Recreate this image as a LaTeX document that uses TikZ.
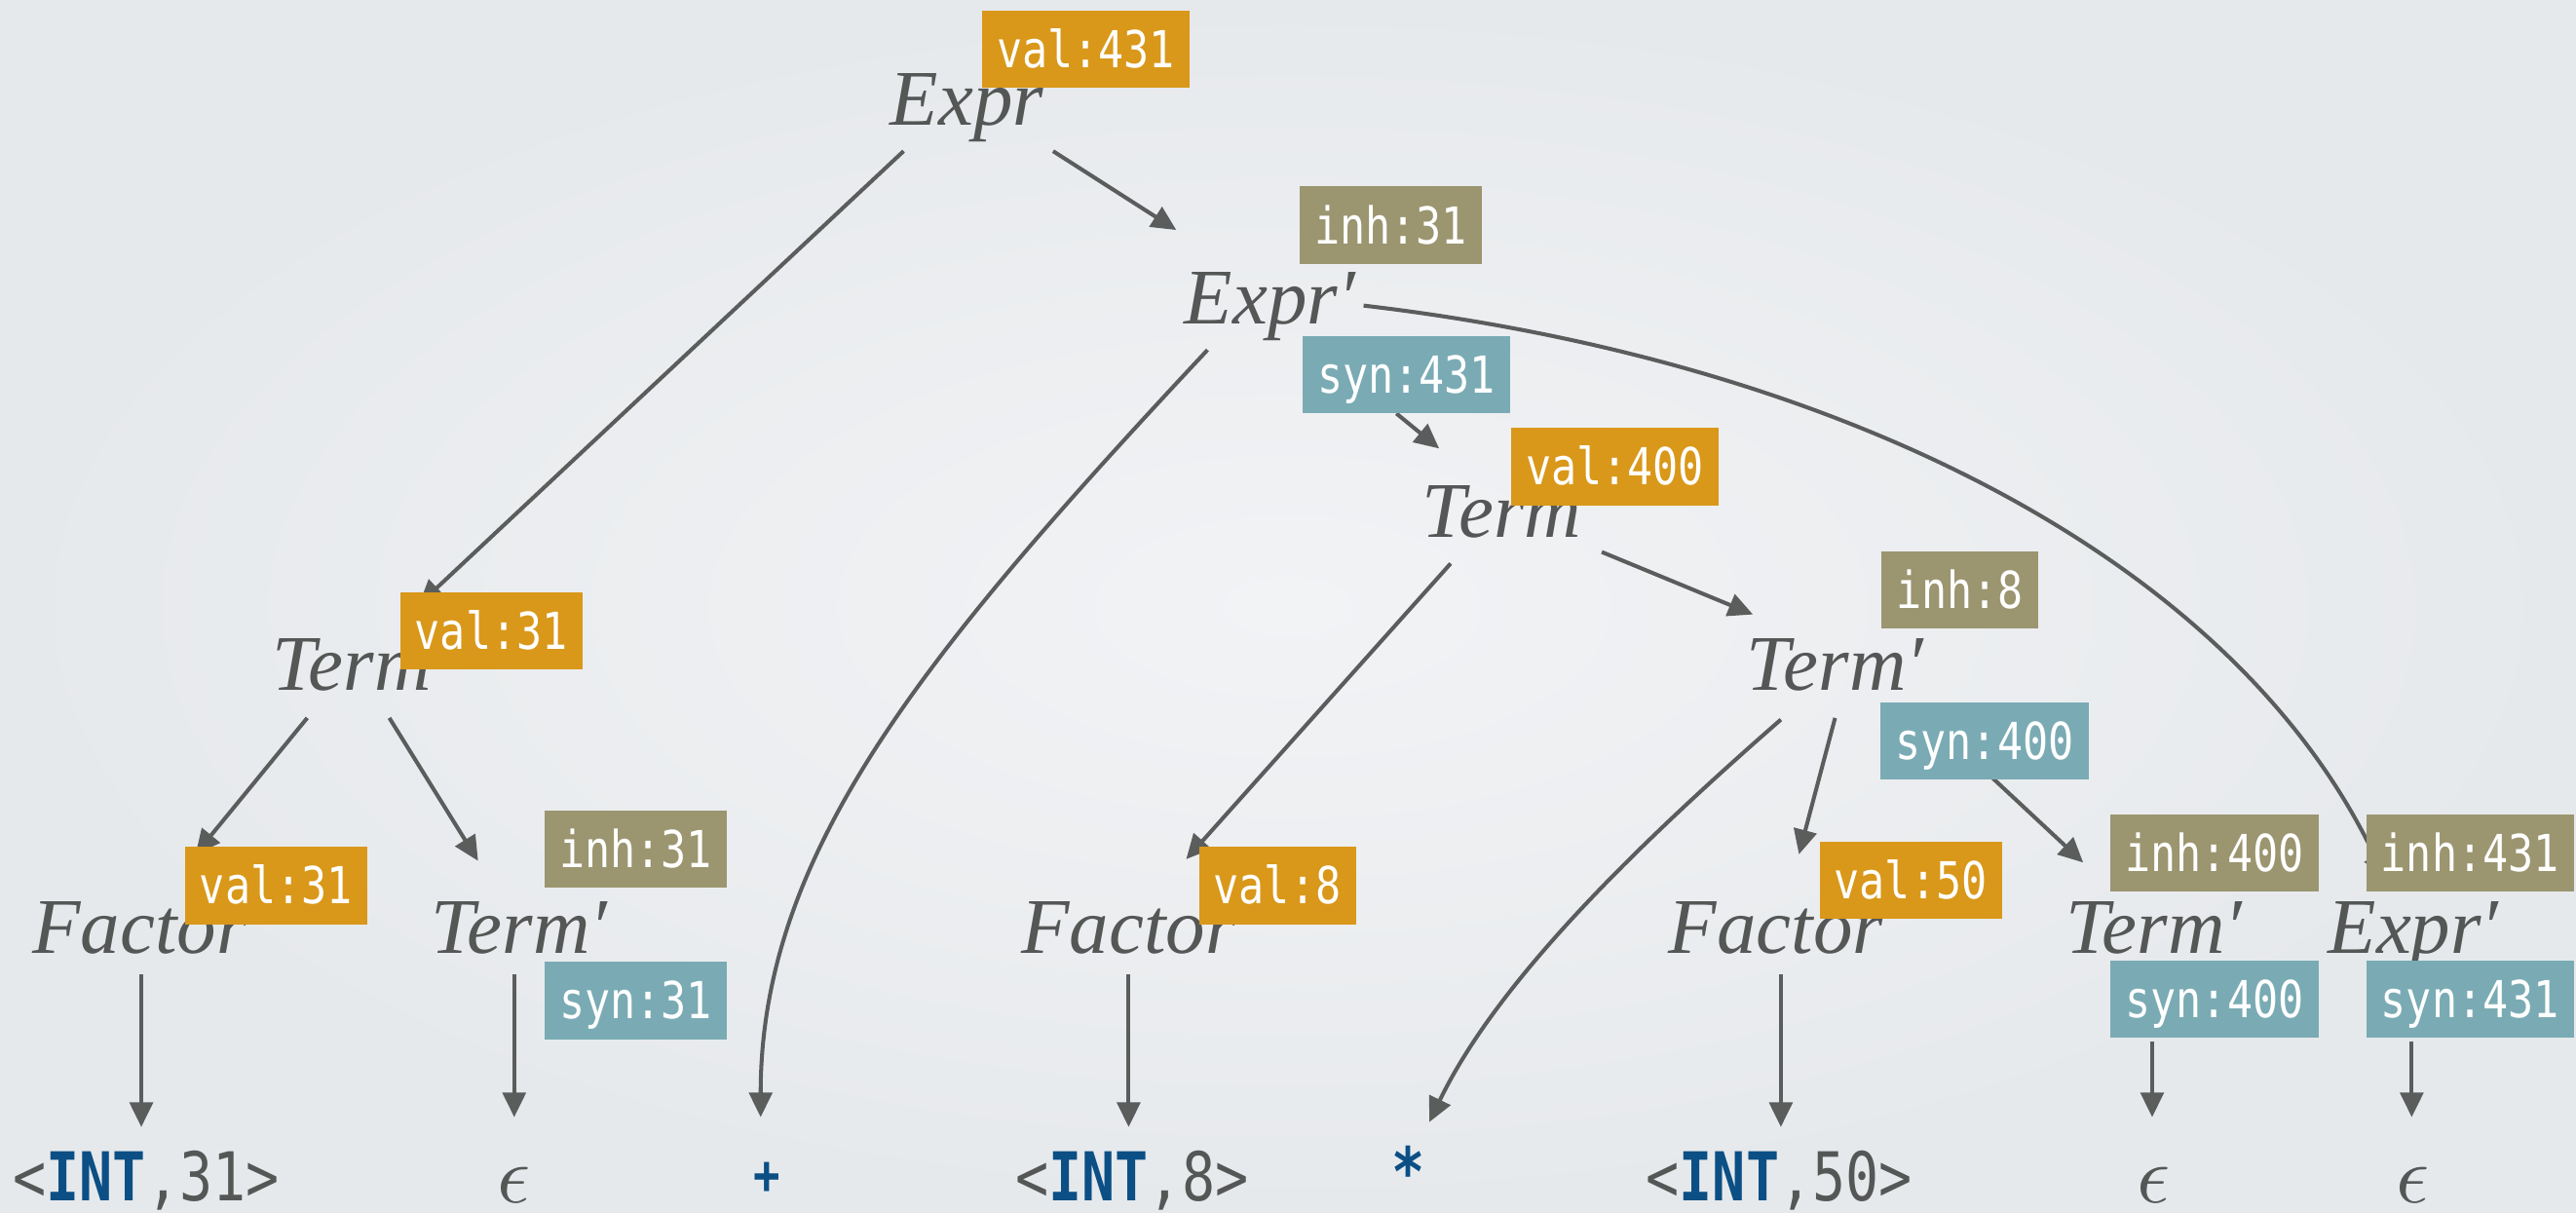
\documentclass[tikz,border=0pt]{standalone}
\usepackage{graphicx}
\usepackage{fontspec}
\setmainfont{Liberation Serif}
\newfontfamily\labfont[FakeStretch=0.83]{DejaVu Sans Mono}
\newfontfamily\tokfont[FakeStretch=0.82]{DejaVu Sans Mono}
\usetikzlibrary{arrows.meta,calc}

\definecolor{bgin}{HTML}{F2F3F5}
\definecolor{bgout}{HTML}{E6E9EC}
\definecolor{ink}{HTML}{555756}
\definecolor{edge}{HTML}{5A5D5C}
\definecolor{valc}{HTML}{D9981A}
\definecolor{inhc}{HTML}{9B9570}
\definecolor{sync}{HTML}{7AABB4}
\definecolor{intblue}{HTML}{0B4F85}

\pgfdeclarelayer{bg}
\pgfdeclarelayer{edges}
\pgfsetlayers{bg,edges,main}

\tikzset{
  nt/.style={anchor=base, inner sep=0pt, text=ink, font=\fontsize{48}{48}\selectfont\itshape},
  attr/.style={anchor=center, text=white, inner xsep=9pt, inner ysep=0pt,
    minimum height=47pt, text height=22.6pt, text depth=0pt,
    font=\labfont\fontsize{31}{31}\selectfont},
  valbox/.style={attr, fill=valc},
  inhbox/.style={attr, fill=inhc},
  synbox/.style={attr, fill=sync},
  tok/.style={anchor=base, inner sep=0pt, text=ink, font=\tokfont\fontsize{41}{41}\selectfont},
  sym/.style={anchor=base, inner sep=0pt, text=intblue, font=\tokfont\bfseries\fontsize{33}{33}\selectfont},
  bigsym/.style={sym, font=\tokfont\bfseries\fontsize{41}{41}\selectfont},
  eps/.style={anchor=base, inner sep=0pt, text=ink},
  arr/.style={draw=edge, line width=2.4pt, -{Triangle[length=15pt,width=14pt]}},
}

\newcommand{\intok}[1]{<\textcolor{intblue}{\bfseries INT},#1>}
\newcommand{\epsleaf}{\scalebox{5}{$\epsilon$}}

\begin{document}
\begin{tikzpicture}[x=1pt, y=-1pt]
\useasboundingbox (0,0) rectangle (1568,738);
\begin{pgfonlayer}{bg}
  \shade[inner color=bgin, outer color=bgout] (0,0) rectangle (1568,738);
\end{pgfonlayer}

% nonterminals
\node[nt] (expr)    at (588.5,76) {Expr};
\node[nt] (exprA)   at (773,197)  {Expr′};
\node[nt] (termM)   at (914,327)  {Term};
\node[nt] (termpR)  at (1117,420) {Term′};
\node[nt] (termL)   at (214,420)  {Term};
\node[nt] (factorL) at (85,580)   {Factor};
\node[nt] (termpL)  at (316,580)  {Term′};
\node[nt] (factorM) at (687,580)  {Factor};
\node[nt] (factorR) at (1081,580) {Factor};
\node[nt] (termpB)  at (1311,580) {Term′};
\node[nt] (exprB)   at (1469,580) {Expr′};

% leaves
\node[tok] (int31) at (89,731)   {\intok{31}};
\node[tok] (int8)  at (689,731)  {\intok{8}};
\node[tok] (int50) at (1083,731) {\intok{50}};
\node[sym] (plus)  at (467,727)  {+};
\node[bigsym] (star) at (857,728) {*};
\node[eps] (eps1)  at (313,732)  {\epsleaf};
\node[eps] (eps4)  at (1311,732) {\epsleaf};
\node[eps] (eps5)  at (1469,732) {\epsleaf};

% attribute tags
\node[valbox] (v431)  at (661,30)    {val:431};
\node[inhbox] (i31a)  at (846.5,137) {inh:31};
\node[synbox] (s431a) at (856,228)   {syn:431};
\node[valbox] (v400)  at (983,284)   {val:400};
\node[inhbox] (i8)    at (1193,359)  {inh:8};
\node[synbox] (s400a) at (1208,451)  {syn:400};
\node[valbox] (v31a)  at (299,384)   {val:31};
\node[valbox] (v31b)  at (168,539)   {val:31};
\node[inhbox] (i31b)  at (387,517)   {inh:31};
\node[synbox] (s31)   at (387,609)   {syn:31};
\node[valbox] (v8)    at (777.5,539) {val:8};
\node[valbox] (v50)   at (1163,536)  {val:50};
\node[inhbox] (i400)  at (1348,519)  {inh:400};
\node[synbox] (s400b) at (1348,608)  {syn:400};
\node[inhbox] (i431)  at (1503.5,519){inh:431};
\node[synbox] (s431b) at (1503.5,608){syn:431};

\begin{pgfonlayer}{edges}
  \draw[arr] ([shift={(-38.5,16)}]expr.base) -- ([shift={(41,-52)}]termL.base);
  \draw[arr] ([shift={(52.5,16)}]expr.base) -- ([shift={(-57,-57)}]exprA.base);
  \draw[arr] ([shift={(-38,16)}]exprA.base) .. controls +(-175,187) and +(0,-160) .. ([shift={(-4,-47)}]plus.base);
  \draw[arr] ([shift={(57,-11)}]exprA.base) .. controls +(290,34) and +(-92,-195) .. ([shift={(-17,-45)}]exprB.base);
  \draw[arr] ([shift={(-6,0)}]s431a.south) -- ([shift={(-38,-54)}]termM.base);
  \draw[arr] ([shift={(-31,16)}]termM.base) -- ([shift={(35,-57)}]factorM.base);
  \draw[arr] ([shift={(61,9)}]termM.base) -- ([shift={(-50,-46)}]termpR.base);
  \draw[arr] ([shift={(-33,18)}]termpR.base) .. controls +(-94,82) and +(40,-83) .. ([shift={(13,-45)}]star.base);
  \draw[arr] ([shift={(0,17)}]termpR.base) -- ([shift={(14,-60)}]factorR.base);
  \draw[arr] ([shift={(5,-1)}]s400a.south) -- ([shift={(-43,-55)}]termpB.base);
  \draw[arr] ([shift={(-38,2)}]s400b.south) -- ([shift={(-1,-52)}]eps4.base);
  \draw[arr] ([shift={(-35.5,2)}]s431b.south) -- ([shift={(-1,-52)}]eps5.base);
  \draw[arr] ([shift={(-27,17)}]termL.base) -- ([shift={(34,-60)}]factorL.base);
  \draw[arr] ([shift={(23,17)}]termL.base) -- ([shift={(-25,-56)}]termpL.base);
  \draw[arr] ([shift={(1,13)}]factorL.base) -- ([shift={(-3,-45)}]int31.base);
  \draw[arr] ([shift={(-3,13)}]termpL.base) -- ([shift={(0,-52)}]eps1.base);
  \draw[arr] ([shift={(0,13)}]factorM.base) -- ([shift={(-2,-45)}]int8.base);
  \draw[arr] ([shift={(3,13)}]factorR.base) -- ([shift={(1,-45)}]int50.base);
\end{pgfonlayer}
\end{tikzpicture}
\end{document}
